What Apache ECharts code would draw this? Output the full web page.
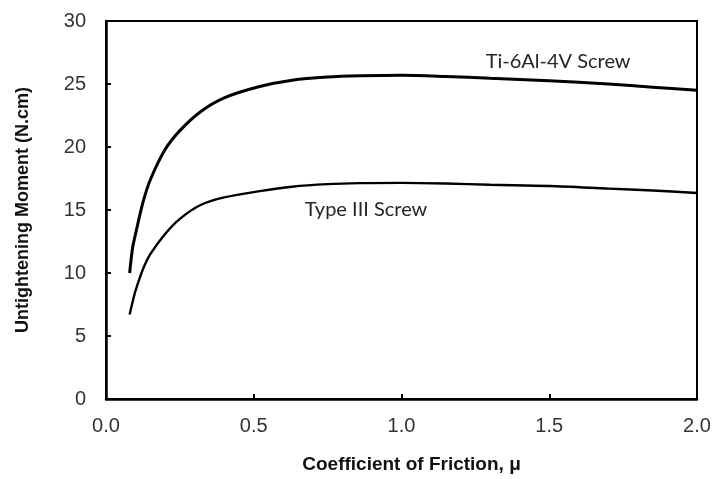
<!DOCTYPE html>
<html>
<head>
<meta charset="utf-8">
<script src="https://cdn.jsdelivr.net/npm/echarts@6/dist/echarts.min.js"></script>
<style>
  html, body { margin: 0; padding: 0; background: #fff; }
  #chart { width: 715px; height: 479px; }
</style>
</head>
<body>
<div id="chart"></div>
<script>
// coefficient of friction (x) and untightening moment in N.cm (y)
const mu = [0.08, 0.09, 0.1, 0.125, 0.15, 0.2, 0.25, 0.32, 0.4, 0.52, 0.63, 0.75, 0.86, 1.0, 1.15, 1.3, 1.5, 1.7, 1.85, 2.0]
const tiMoment = [10.0, 12.0, 13.1, 15.6, 17.4, 19.8, 21.3, 22.8, 23.9, 24.8, 25.3, 25.55, 25.65, 25.7, 25.6, 25.45, 25.25, 25.0, 24.75, 24.5]
const typeIIIMoment = [6.7, 7.7, 8.6, 10.3, 11.5, 13.1, 14.3, 15.4, 16.0, 16.5, 16.85, 17.05, 17.13, 17.15, 17.1, 17.0, 16.9, 16.7, 16.55, 16.35]

const seriesNames = ['Ti-6Al-4V Screw', 'Type III Screw']
const labelCoords = [[1.53, 26.8], [0.88, 15.0]]

const chart = echarts.init(document.getElementById('chart'), null, { renderer: 'canvas' })

const pairs = (ys) => mu.map((x, i) => [x, ys[i]])

const curveLabel = (name, coord) => ({
    symbol: 'circle',
    symbolSize: 0,
    silent: true,
    data: [{ coord: coord }],
    label: {
        show: true,
        position: 'inside',
        formatter: name,
        color: '#262626',
        fontFamily: 'Lato',
        fontSize: 20,
    },
})

chart.setOption({
    backgroundColor: '#fff',
    animation: false,
    grid: {
        left: 106,
        right: 18,
        top: 21,
        bottom: 77,
        show: true,
        borderColor: '#000',
        borderWidth: 2,
    },
    xAxis: {
        type: 'value',
        min: 0,
        max: 2,
        interval: 0.5,
        name: 'Coefficient of Friction, \u03bc',
        nameLocation: 'middle',
        nameGap: 56,
        nameTextStyle: {
            color: '#111',
            fontFamily: 'Liberation Sans',
            fontWeight: 'bold',
            fontSize: 19,
            padding: [0, 0, 0, 20],
        },
        axisLine: { show: true, lineStyle: { color: '#000', width: 2.5 } },
        axisTick: { show: true, inside: true, length: 5, lineStyle: { color: '#000', width: 2 } },
        axisLabel: {
            color: '#333',
            fontFamily: 'Liberation Sans',
            fontSize: 20,
            margin: 17,
            formatter: (v) => v.toFixed(1),
        },
        splitLine: { show: false },
    },
    yAxis: {
        type: 'value',
        min: 0,
        max: 30,
        interval: 5,
        name: 'Untightening Moment (N.cm)',
        nameLocation: 'middle',
        nameGap: 74,
        nameTextStyle: {
            color: '#111',
            fontFamily: 'Liberation Sans',
            fontWeight: 'bold',
            fontSize: 18,
        },
        axisLine: { show: true, lineStyle: { color: '#000', width: 2.5 } },
        axisTick: { show: true, inside: true, length: 5, lineStyle: { color: '#000', width: 2 } },
        axisLabel: {
            color: '#333',
            fontFamily: 'Liberation Sans',
            fontSize: 20,
            margin: 20,
        },
        splitLine: { show: false },
    },
    series: [
        {
            name: seriesNames[0],
            type: 'line',
            smooth: 0.3,
            showSymbol: false,
            lineStyle: { color: '#000', width: 3 },
            data: pairs(tiMoment),
            markPoint: curveLabel(seriesNames[0], labelCoords[0]),
        },
        {
            name: seriesNames[1],
            type: 'line',
            smooth: 0.3,
            showSymbol: false,
            lineStyle: { color: '#000', width: 2.4 },
            data: pairs(typeIIIMoment),
            markPoint: curveLabel(seriesNames[1], labelCoords[1]),
        },
    ],
})
</script>
</body>
</html>
